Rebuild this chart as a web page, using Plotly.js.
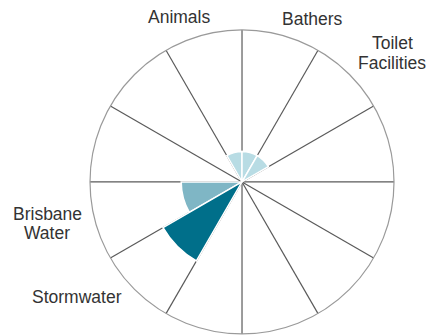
<!DOCTYPE html>
<html>
<head>
<meta charset="utf-8">
<script src="https://cdn.plot.ly/plotly-3.0.1.min.js"></script>
<style>html,body{margin:0;padding:0;background:#fff;}#chart{width:426px;height:336px;}</style>
</head>
<body>
<div id="chart"></div>
<script>
// Data
var categories = ["Animals", "Bathers", "Toilet Facilities", "Brisbane Water", "Stormwater"];
var tickLabels = ["Animals", "Bathers", "Toilet<br>Facilities", "Brisbane<br>Water", "Stormwater"];
var sectorAngles = [105, 75, 45, 195, 225];   // centre angle of each category sector (degrees)
var values = [1, 1, 1, 2, 3];
var barColors = ["#b8dce4", "#b8dce4", "#b8dce4", "#7fb6c5", "#006f8a"];
var gridAngles = [0, 30, 60, 90, 120, 150, 180, 210, 240, 270, 300, 330];
var radialMax = 5;

var W = 426, H = 336;
var dom = {x: [0.2113, 0.9249], y: [0.006, 0.911]};

// label placement (pixel centres, styling only)
var labelPos = [[179, 17], [312, 19], [392, 53], [47, 223.5], [77, 297]];
var linePitch = 19;

var annotations = [];
tickLabels.forEach(function(lbl, i) {
  var lines = lbl.split("<br>");
  var n = lines.length;
  lines.forEach(function(line, j) {
    var ypx = labelPos[i][1] + (j - (n - 1) / 2) * linePitch;
    annotations.push({
      xref: "paper", yref: "paper",
      x: labelPos[i][0] / W, y: 1 - ypx / H,
      xanchor: "center", yanchor: "middle",
      text: line, showarrow: false,
      font: {family: "Liberation Sans, Arial, sans-serif", size: 17.5, color: "#333333"}
    });
  });
});

var traces = [
  {
    type: "barpolar",
    r: values,
    theta: sectorAngles,
    width: values.map(function(){ return 30; }),
    marker: {color: barColors, line: {color: "#ffffff", width: 1.5}},
    text: categories,
    hoverinfo: "text+r",
    subplot: "polar"
  }
];

var layout = {
  width: W, height: H,
  margin: {l: 0, r: 0, t: 0, b: 0},
  paper_bgcolor: "#ffffff",
  showlegend: false,
  font: {family: "Liberation Sans, Arial, sans-serif", size: 17, color: "#333333"},
  annotations: annotations,
  polar: {
    domain: dom,
    bgcolor: "rgba(0,0,0,0)",
    radialaxis: {range: [0, radialMax], visible: false, showgrid: false},
    angularaxis: {
      direction: "counterclockwise", rotation: 0,
      tickmode: "array", tickvals: gridAngles, showticklabels: false, ticks: "",
      showgrid: true, gridcolor: "#5a5a5a", gridwidth: 1.2,
      showline: true, linecolor: "#9a9a9a", linewidth: 1.2
    }
  }
};

Plotly.newPlot("chart", traces, layout, {displayModeBar: false, staticPlot: true});
</script>
</body>
</html>
